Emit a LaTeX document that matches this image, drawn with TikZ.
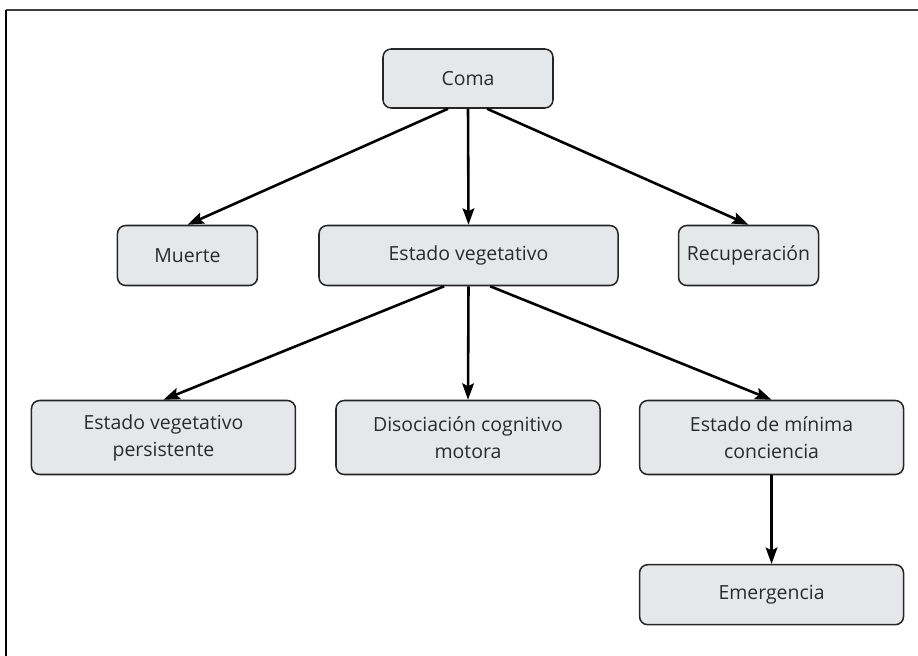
\documentclass[tikz,border=0pt]{standalone}
\usepackage{fontspec}
\setmainfont{Open Sans}
\usetikzlibrary{positioning, arrows.meta}
\definecolor{boxfill}{HTML}{E6E7E9}
\definecolor{boxtext}{HTML}{2B2B2B}
\tikzset{
	->, % every connector is directed
	>={Stealth[length=14pt, width=10pt, inset=2.5pt]}, % filled arrow heads
	every edge/.style={draw, line width=2.2pt}, % thick connectors
	x=0.03cm, y=-0.03cm, % one unit is one pixel of the page, y downwards
	estado/.style={draw=black!85, fill=boxfill, text=boxtext, line width=1.3pt,
		rounded corners=7pt, align=center, inner sep=0pt,
		font=\fontsize{16.6pt}{23pt}\selectfont}, % sets the look of each box
	corto/.style={estado, minimum width=4.2cm, minimum height=1.8cm}, % one word
	ancho/.style={estado, minimum width=7.92cm, minimum height=2.22cm}, % two lines
}

\begin{document}
\begin{tikzpicture}
	\useasboundingbox (0,0) rectangle (918,656);
	\draw[-, line width=1.6pt, black!75] (6,10) -- (918,10);
	\draw[-, line width=1.6pt] (6,10) -- (6,656);

			\node[estado, minimum width=5.1cm, minimum height=1.77cm] at (468,78.5) (coma) {Coma};
			\node[estado, minimum width=8.97cm, minimum height=1.8cm] at (468.5,255.5) (veg) {Estado vegetativo};
			\node[corto, left=1.8cm of veg] (muerte) {Muerte};
			\node[corto, right=1.77cm of veg] (recup) {Recuperación};
			\node[ancho] at (468,437.5) (dcm) {Disociación cognitivo\\motora};
			\node[ancho, left=1.17cm of dcm] (persist) {Estado vegetativo\\persistente};
			\node[ancho, right=1.14cm of dcm] (minima) {Estado de mínima\\conciencia};
			\node[estado, minimum width=7.92cm, minimum height=1.8cm, below=2.66cm of minima] (emerg) {Emergencia};
	\path 	([xshift=-0.6cm]coma.south) edge (muerte.north)
			(coma.south) edge (veg.north)
			([xshift=0.57cm]coma.south) edge (recup.north)
			([xshift=-0.73cm]veg.south) edge (persist.north)
			(veg.south) edge (dcm.north)
			([xshift=0.65cm]veg.south) edge (minima.north)
			(minima.south) edge (emerg.north);
	\end{tikzpicture}
\end{document}
